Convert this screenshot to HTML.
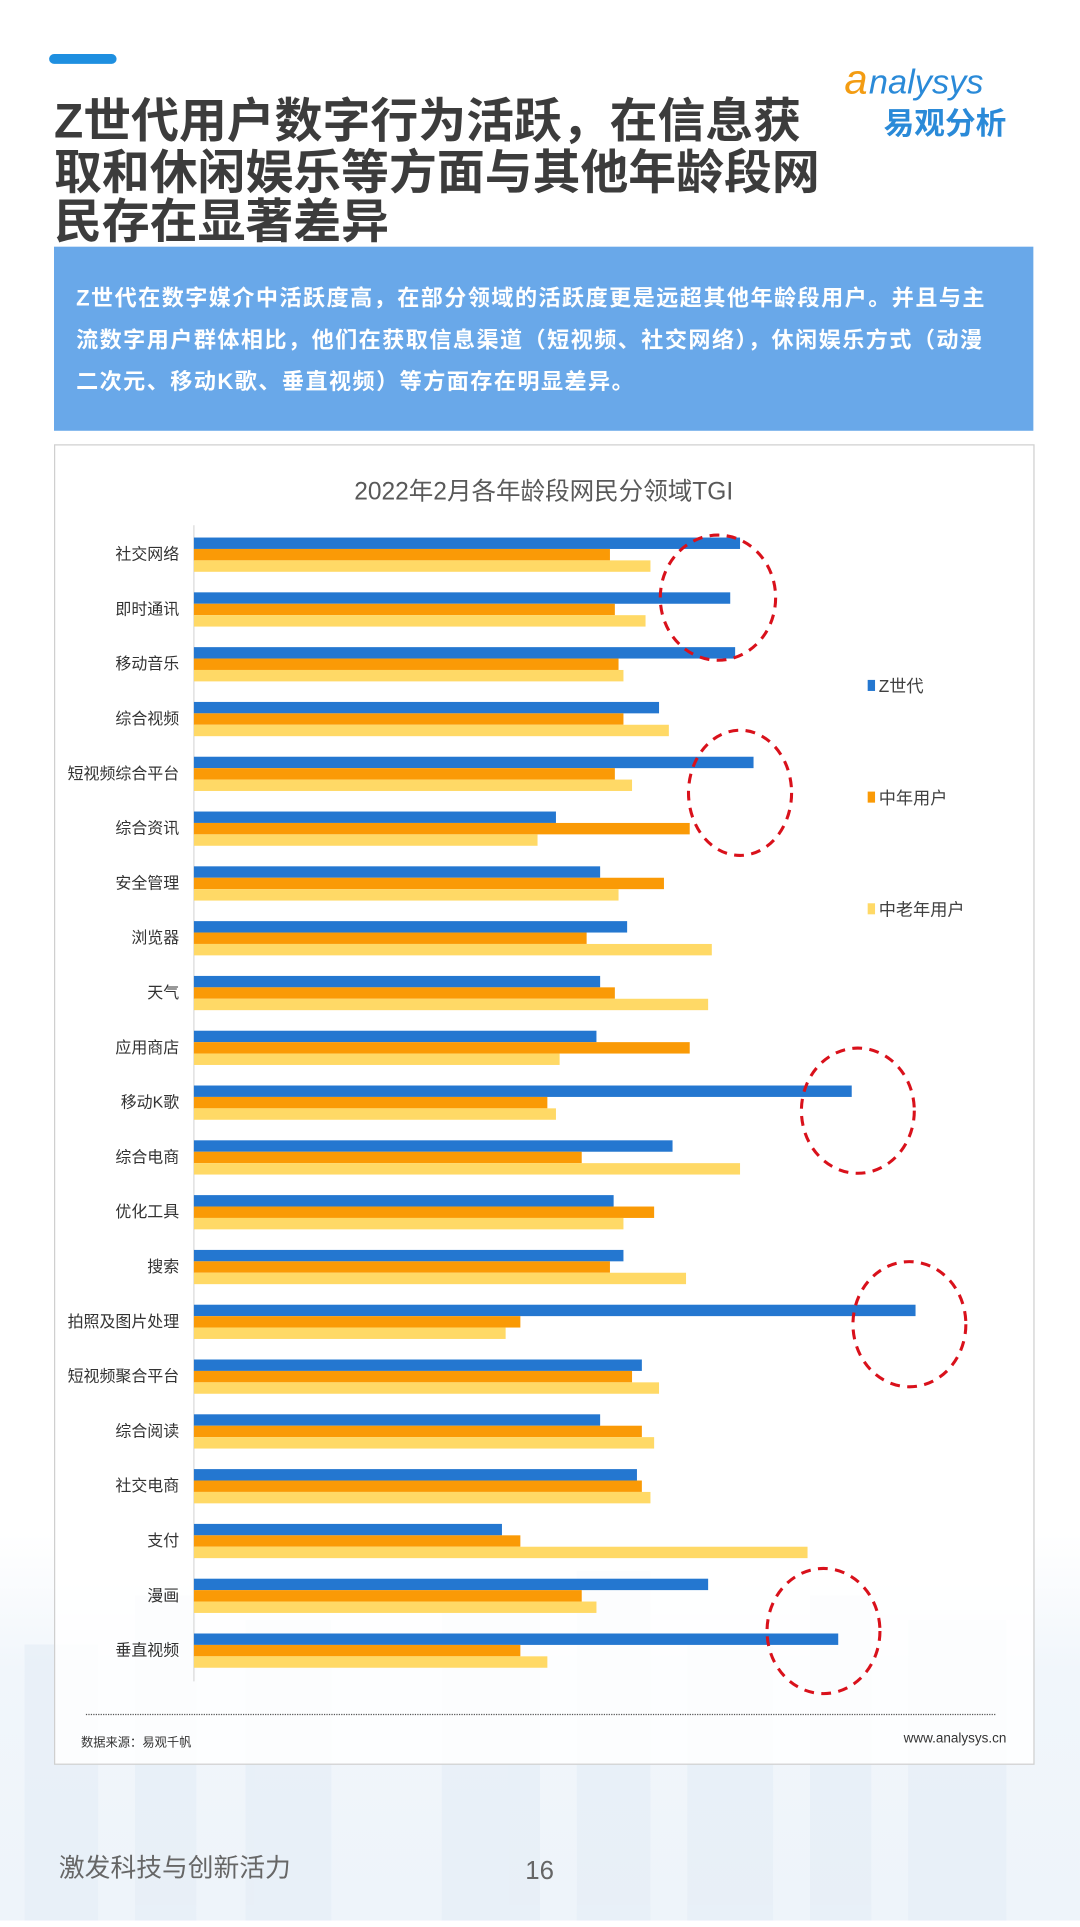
<!DOCTYPE html>
<html><head><meta charset="utf-8"><style>
html,body{margin:0;padding:0;width:1080px;height:1920px;overflow:hidden;background:#fff}
#w{position:absolute;left:0;top:0;width:880px;height:1565px;transform:scale(1.22727);transform-origin:0 0;font-family:"Liberation Sans","Noto Sans CJK SC",sans-serif}
</style></head><body><div id="w">
<svg width="880" height="1565" xmlns="http://www.w3.org/2000/svg" font-family="Liberation Sans, Noto Sans CJK SC, sans-serif">
<defs><linearGradient id="bg" x1="0" y1="0" x2="0" y2="1"><stop offset="0" stop-color="#fff"/><stop offset="0.35" stop-color="#f1f6fb"/><stop offset="1" stop-color="#eef4fa"/></linearGradient></defs>
<rect x="0" y="1250" width="880" height="315" fill="url(#bg)"/>
<g fill="#e6eef7" opacity="0.7">
<rect x="20" y="1340" width="60" height="225"/><rect x="110" y="1300" width="50" height="265"/><rect x="200" y="1320" width="70" height="245"/><rect x="360" y="1310" width="80" height="255"/><rect x="470" y="1280" width="60" height="285"/><rect x="560" y="1330" width="70" height="235"/><rect x="660" y="1300" width="50" height="265"/><rect x="740" y="1320" width="80" height="245"/>
</g>
<rect x="40" y="44" width="55" height="8" rx="4" fill="#1e8fe0"/>
<g font-size="39" font-weight="bold" fill="#3c3c3c">
<text x="44" y="112">Z世代用户数字行为活跃，在信息获</text>
<text x="44" y="154">取和休闲娱乐等方面与其他年龄段网</text>
<text x="44" y="194">民存在显著差异</text>
</g>
<text x="688" y="76" font-size="34" fill="#f39c12" font-style="italic">a</text>
<text x="708" y="76" font-size="28" fill="#2a8ad8" font-style="italic">nalysys</text>
<text x="720" y="109" font-size="25" font-weight="bold" fill="#2a8ad8">易观分析</text>
<rect x="44" y="201" width="798" height="150" fill="#69a8e9"/>
<g font-size="18" font-weight="bold" fill="#fff" letter-spacing="1.2">
<text x="62" y="249">Z世代在数字媒介中活跃度高，在部分领域的活跃度更是远超其他年龄段用户。并且与主</text>
<text x="62" y="283">流数字用户群体相比，他们在获取信息渠道（短视频、社交网络），休闲娱乐方式（动漫</text>
<text x="62" y="317">二次元、移动K歌、垂直视频）等方面存在明显差异。</text>
</g>
<rect x="44.5" y="362.5" width="798" height="1075" fill="rgba(255,255,255,0.85)" stroke="#cfcfcf"/>
<text x="443" y="407" font-size="20" fill="#595959" text-anchor="middle">2022年2月各年龄段网民分领域TGI</text>
<line x1="158" y1="428" x2="158" y2="1370" stroke="#d9d9d9"/>
<g id="bars"></g>
<g font-size="14" fill="#404040">
<rect x="707" y="554" width="6" height="9" fill="#2477d0"/><text x="716" y="564">Z世代</text>
<rect x="707" y="645" width="6" height="9" fill="#fa9a06"/><text x="716" y="655">中年用户</text>
<rect x="707" y="736" width="6" height="9" fill="#ffd966"/><text x="716" y="746">中老年用户</text>
</g>
<g fill="none" stroke="#d9111b" stroke-width="2.5" stroke-dasharray="8,6">
<ellipse cx="585" cy="487" rx="47" ry="51"/>
<ellipse cx="603" cy="646" rx="42" ry="51"/>
<ellipse cx="699" cy="905" rx="46" ry="51"/>
<ellipse cx="741" cy="1079" rx="46" ry="51"/>
<ellipse cx="671" cy="1329" rx="46" ry="51"/>
</g>
<line x1="70" y1="1397" x2="812" y2="1397" stroke="#555" stroke-dasharray="1,1"/>
<text x="66" y="1423" font-size="10" fill="#333">数据来源：易观千帆</text>
<text x="820" y="1420" font-size="11" fill="#333" text-anchor="end">www.analysys.cn</text>
<text x="48" y="1529" font-size="21" fill="#666">激发科技与创新活力</text>
<text x="428" y="1531" font-size="21" fill="#666">16</text>
</svg></div>
<script>
var d=[["社交网络",603,497,530],["即时通讯",595,501,526],["移动音乐",599,504,508],["综合视频",537,508,545],["短视频综合平台",614,501,515],["综合资讯",453,562,438],["安全管理",489,541,504],["浏览器",511,478,580],["天气",489,501,577],["应用商店",486,562,456],["移动K歌",694,446,453],["综合电商",548,474,603],["优化工具",500,533,508],["搜索",508,497,559],["拍照及图片处理",746,424,412],["短视频聚合平台",523,515,537],["综合阅读",489,523,533],["社交电商",519,523,530],["支付",409,424,658],["漫画",577,474,486],["垂直视频",683,424,446]];
var c=["#2477d0","#fa9a06","#ffd966"],s="";
d.forEach(function(r,i){var y=451+i*44.65;
s+='<text x="146" y="'+(y+5)+'" font-size="13" fill="#333" text-anchor="end">'+r[0]+'</text>';
for(var k=0;k<3;k++){s+='<rect x="158" y="'+(y-13+k*9.3)+'" width="'+(r[k+1]-158)+'" height="9.3" fill="'+c[k]+'"/>';}});
document.getElementById("bars").innerHTML=s;
</script>
</body></html>
